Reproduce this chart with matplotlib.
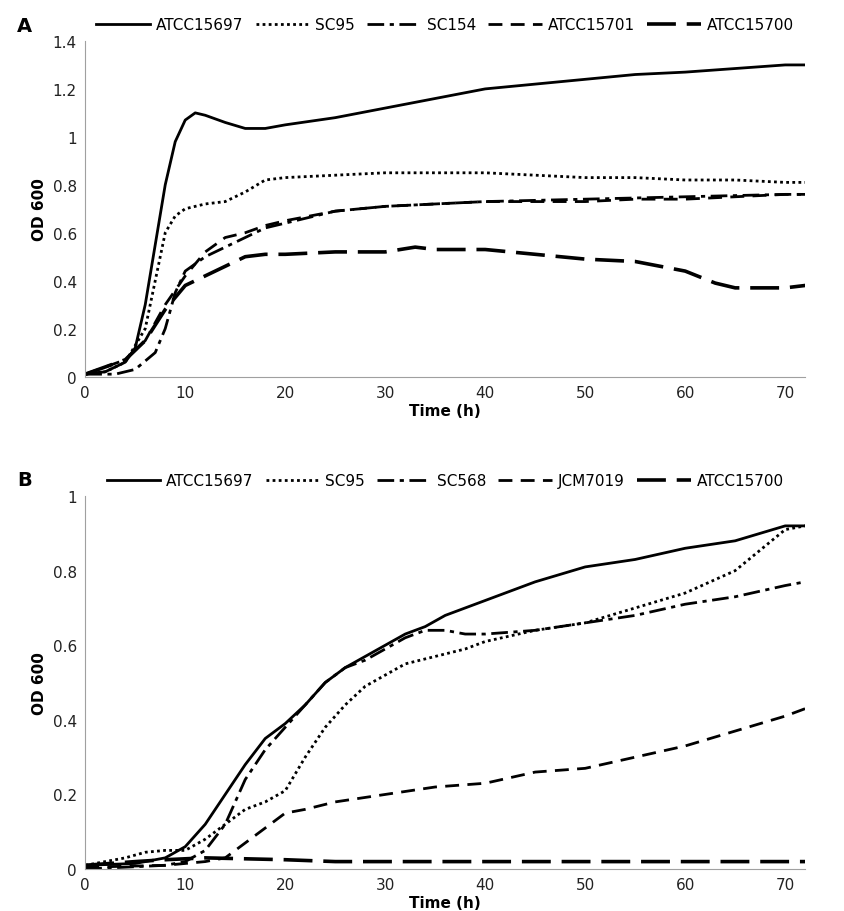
import matplotlib
matplotlib.use("Agg")
import matplotlib.pyplot as plt

# Panel A
a_names = ["ATCC15697", "SC95", "SC154", "ATCC15701", "ATCC15700"]
a1_t = [0,2,4,5,6,7,8,9,10,11,12,14,16,18,20,25,30,35,40,45,50,55,60,65,70,72]
a1_y = [0.01,0.02,0.06,0.12,0.3,0.55,0.8,0.98,1.07,1.1,1.09,1.06,1.035,1.035,1.05,1.08,1.12,1.16,1.2,1.22,1.24,1.26,1.27,1.285,1.3,1.3]
a2_t = [0,2,4,6,7,8,9,10,12,14,16,18,20,25,30,35,40,45,50,55,60,65,70,72]
a2_y = [0.01,0.02,0.06,0.2,0.4,0.6,0.67,0.7,0.72,0.73,0.77,0.82,0.83,0.84,0.85,0.85,0.85,0.84,0.83,0.83,0.82,0.82,0.81,0.81]
a3_t = [0,3,5,7,8,9,10,12,14,16,18,20,25,30,35,40,50,60,70,72]
a3_y = [0.01,0.01,0.03,0.1,0.2,0.35,0.44,0.5,0.54,0.58,0.62,0.64,0.69,0.71,0.72,0.73,0.74,0.75,0.76,0.76]
a4_t = [0,4,6,8,10,12,14,16,18,20,25,30,35,40,50,55,60,70,72]
a4_y = [0.01,0.07,0.15,0.3,0.42,0.52,0.58,0.6,0.63,0.65,0.69,0.71,0.72,0.73,0.73,0.74,0.74,0.76,0.76]
a5_t = [0,4,6,8,10,12,14,16,18,20,25,30,33,35,40,45,50,55,60,63,65,70,72]
a5_y = [0.01,0.07,0.15,0.28,0.38,0.42,0.46,0.5,0.51,0.51,0.52,0.52,0.54,0.53,0.53,0.51,0.49,0.48,0.44,0.39,0.37,0.37,0.38]

# Panel B
b_names = ["ATCC15697", "SC95", "SC568", "JCM7019", "ATCC15700"]
b1_t = [0,5,8,10,12,14,16,18,20,22,24,26,28,30,32,34,36,38,40,45,50,55,60,65,70,72]
b1_y = [0.01,0.015,0.03,0.06,0.12,0.2,0.28,0.35,0.39,0.44,0.5,0.54,0.57,0.6,0.63,0.65,0.68,0.7,0.72,0.77,0.81,0.83,0.86,0.88,0.92,0.92]
b2_t = [0,4,6,8,10,12,14,16,18,20,22,24,26,28,30,32,35,38,40,45,50,55,60,65,70,72]
b2_y = [0.01,0.03,0.045,0.05,0.05,0.08,0.12,0.16,0.18,0.21,0.3,0.38,0.44,0.49,0.52,0.55,0.57,0.59,0.61,0.64,0.66,0.7,0.74,0.8,0.91,0.92]
b3_t = [0,8,10,12,14,16,18,20,22,24,26,28,30,32,34,36,38,40,45,50,55,60,65,70,72]
b3_y = [0.0,0.01,0.02,0.05,0.12,0.24,0.32,0.38,0.44,0.5,0.54,0.56,0.59,0.62,0.64,0.64,0.63,0.63,0.64,0.66,0.68,0.71,0.73,0.76,0.77]
b4_t = [0,8,12,14,16,18,20,22,25,30,35,40,45,50,55,60,65,70,72]
b4_y = [0.005,0.01,0.02,0.03,0.07,0.11,0.15,0.16,0.18,0.2,0.22,0.23,0.26,0.27,0.3,0.33,0.37,0.41,0.43]
b5_t = [0,5,8,12,20,25,72]
b5_y = [0.01,0.02,0.025,0.03,0.025,0.02,0.02]

styles = [dict(ls="-", lw=2.0), dict(ls=(0, (1, 1.2)), lw=2.0),
          dict(ls=(0, (6, 2, 1.5, 2)), lw=2.0), dict(ls=(0, (5, 3)), lw=2.0),
          dict(ls=(0, (8, 3)), lw=2.6)]

fig = plt.figure(figsize=(8.44, 9.12), dpi=100)
axA = fig.add_axes([0.101, 0.586, 0.853, 0.368])
axB = fig.add_axes([0.101, 0.046, 0.853, 0.409])

def style(ax, ymax, step, letter, names, series):
    for (t, y), n, s in zip(series, names, styles):
        ax.plot(t, y, color="black", label=n, **s)
    ax.set_xlim(0, 72)
    ax.set_ylim(0, ymax)
    ax.set_xticks(range(0, 71, 10))
    yt = [round(i * step, 1) for i in range(int(round(ymax / step)) + 1)]
    ax.set_yticks(yt)
    ax.set_yticklabels(["0" if v == 0 else ("1" if v == 1 else f"{v:g}") for v in yt])
    for sp in ["top", "right"]:
        ax.spines[sp].set_visible(False)
    for sp in ["left", "bottom"]:
        ax.spines[sp].set_color("#a0a0a0")
    ax.tick_params(length=0, labelsize=11, colors="#222222", pad=6)
    ax.set_xlabel("Time (h)", fontsize=11, fontweight="bold", labelpad=2)
    ax.set_ylabel("OD 600", fontsize=11, fontweight="bold")
    ax.legend(loc="lower center", bbox_to_anchor=(0.5, 0.985), ncol=5, frameon=False,
              fontsize=11, handlelength=3.5, columnspacing=0.8, handletextpad=0.4)
    ax.text(-0.095, 1.03, letter, transform=ax.transAxes, fontsize=14, fontweight="bold")

style(axA, 1.4, 0.2, "A", a_names, [(a1_t, a1_y), (a2_t, a2_y), (a3_t, a3_y), (a4_t, a4_y), (a5_t, a5_y)])
style(axB, 1.0, 0.2, "B", b_names, [(b1_t, b1_y), (b2_t, b2_y), (b3_t, b3_y), (b4_t, b4_y), (b5_t, b5_y)])

fig.savefig("out.png", dpi=100)
